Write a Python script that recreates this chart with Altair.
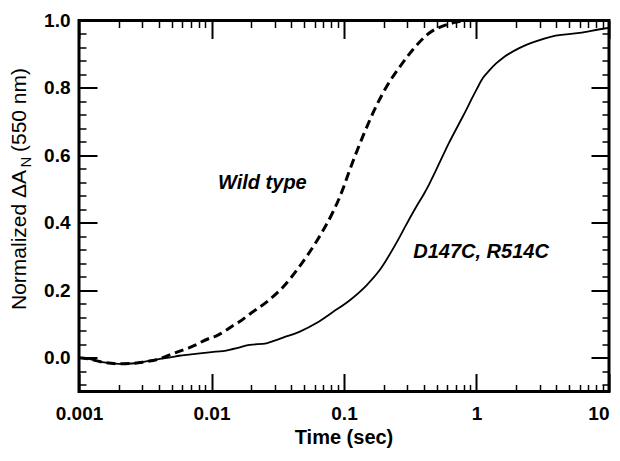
import altair as alt
import pandas as pd

# ---- data ----
wt_time = [0.001, 0.0012, 0.0015, 0.002, 0.0025, 0.003, 0.004, 0.0048, 0.0057, 0.0066,
           0.0076, 0.0082, 0.01, 0.0109, 0.0127, 0.0145, 0.016, 0.0195, 0.026, 0.0347,
           0.046, 0.062, 0.082, 0.0925, 0.098, 0.11, 0.14, 0.177, 0.222, 0.263, 0.333,
           0.44, 0.59, 0.74, 0.8]
wt_val = [0.0, -0.004, -0.013, -0.018, -0.017, -0.013, -0.004, 0.008, 0.019, 0.028,
          0.038, 0.045, 0.06, 0.065, 0.08, 0.095, 0.105, 0.13, 0.165, 0.21,
          0.27, 0.345, 0.43, 0.475, 0.5, 0.555, 0.66, 0.75, 0.82, 0.862, 0.915,
          0.963, 0.987, 0.997, 1.0]

mut_time = [0.001, 0.0012, 0.0015, 0.002, 0.0025, 0.003, 0.004, 0.005, 0.0057, 0.007,
            0.0085, 0.01, 0.0122, 0.0145, 0.0195, 0.026, 0.0295, 0.0347, 0.046, 0.062,
            0.082, 0.11, 0.148, 0.186, 0.248, 0.3, 0.36, 0.4, 0.44, 0.5, 0.62, 0.79, 1.0,
            1.12, 1.25, 1.4, 1.58, 2.1, 2.8, 3.75, 6.0, 9.5, 10.0]
mut_val = [0.0, -0.004, -0.013, -0.018, -0.017, -0.013, -0.004, 0.002, 0.006, 0.01,
           0.014, 0.017, 0.02, 0.026, 0.038, 0.043, 0.05, 0.06, 0.077, 0.103,
           0.135, 0.17, 0.215, 0.26, 0.34, 0.40, 0.455, 0.485, 0.515, 0.56, 0.637, 0.716, 0.795,
           0.83, 0.852, 0.872, 0.889, 0.918, 0.938, 0.953, 0.963, 0.977, 0.978]

x_major = [0.001, 0.01, 0.1, 1, 10]
x_minor = [0.002, 0.003, 0.004, 0.005, 0.006, 0.007, 0.008, 0.009,
           0.02, 0.03, 0.04, 0.05, 0.06, 0.07, 0.08, 0.09,
           0.2, 0.3, 0.4, 0.5, 0.6, 0.7, 0.8, 0.9,
           2, 3, 4, 5, 6, 7, 8, 9]
y_major = [0.0, 0.2, 0.4, 0.6, 0.8, 1.0]
y_minor = [-0.08, -0.04, 0.04, 0.08, 0.12, 0.16, 0.24, 0.28, 0.32, 0.36,
           0.44, 0.48, 0.52, 0.56, 0.64, 0.68, 0.72, 0.76, 0.84, 0.88, 0.92, 0.96]

labels = ["Wild type", "D147C, R514C"]
label_time = [0.0112, 0.333]
label_val = [0.501, 0.295]

W, H = 530, 371
FONT = "Liberation Sans"

wt = pd.DataFrame({"t": wt_time, "v": wt_val})
mut = pd.DataFrame({"t": mut_time, "v": mut_val})
lab = pd.DataFrame({"t": label_time, "v": label_val, "label": labels})

xs = alt.Scale(type="log", domain=[0.001, 10], nice=False)
ys = alt.Scale(domain=[-0.1, 1.0], nice=False, zero=False)


def ax(orient, values, size, labels_on=False, **kw):
    return alt.Axis(orient=orient, values=values, tickSize=size, offset=-size,
                    domain=False, grid=False, tickColor="black",
                    tickWidth=2 if size > 10 else 1.5, labels=labels_on,
                    labelFont=FONT, labelFontSize=19, labelFontWeight="bold",
                    labelColor="black", labelFlush=False, labelOverlap=False,
                    title=None, **kw)


mut_line = alt.Chart(mut).mark_line(color="black", strokeWidth=1.8,
                                    interpolate="monotone").encode(
    x=alt.X("t:Q", scale=xs, axis=ax(
        "bottom", x_major, 18, True, labelPadding=13, format="~g",
        labelAlign={"condition": {"test": "datum.value >= 10", "value": "right"},
                    "value": "center"})),
    y=alt.Y("v:Q", scale=ys, axis=ax("left", y_major, 18, True, labelPadding=9, format=".1f")),
)
wt_line = alt.Chart(wt).mark_line(color="black", strokeWidth=3, strokeDash=[9, 5],
                                  interpolate="monotone").encode(
    x=alt.X("t:Q", scale=xs, axis=ax("bottom", x_minor, 7)),
    y=alt.Y("v:Q", scale=ys, axis=ax("left", y_minor, 7)),
)
top_major = alt.Chart(mut).mark_line(opacity=0).encode(
    x=alt.X("t:Q", scale=xs, axis=ax("top", x_major, 18)),
    y=alt.Y("v:Q", scale=ys, axis=ax("right", y_major, 18)),
)
top_minor = alt.Chart(mut).mark_line(opacity=0).encode(
    x=alt.X("t:Q", scale=xs, axis=ax("top", x_minor, 7)),
    y=alt.Y("v:Q", scale=ys, axis=ax("right", y_minor, 7)),
)

ann = alt.Chart(lab).mark_text(align="left", baseline="alphabetic", font=FONT,
                               fontSize=20, fontWeight="bold", fontStyle="italic",
                               color="black").encode(
    x=alt.X("t:Q", scale=xs, axis=None),
    y=alt.Y("v:Q", scale=ys, axis=None),
    text="label:N",
)

one = pd.DataFrame({"a": [0]})
xtitle = alt.Chart(one).mark_text(text="Time (sec)", font=FONT, fontSize=20,
                                  fontWeight="bold", align="center",
                                  baseline="middle", color="black").encode(
    x=alt.value(W / 2), y=alt.value(417))

yt1 = alt.Chart(one).mark_text(text="Normalized  \u0394A", font=FONT, fontSize=21,
                               angle=270, align="left", baseline="middle",
                               color="black").encode(x=alt.value(-59), y=alt.value(289.5))
yt2 = alt.Chart(one).mark_text(text="N", font=FONT, fontSize=15,
                               angle=270, align="left", baseline="middle",
                               color="black").encode(x=alt.value(-53), y=alt.value(147))
yt3 = alt.Chart(one).mark_text(text="(550 nm)", font=FONT, fontSize=21,
                               angle=270, align="left", baseline="middle",
                               color="black").encode(x=alt.value(-59), y=alt.value(131.5))

chart = alt.layer(
    mut_line, wt_line, top_major, top_minor, ann, xtitle, yt1, yt2, yt3
).resolve_axis(x="independent", y="independent").properties(
    width=W, height=H,
    autosize=alt.AutoSizeParams(type="none"),
    padding={"left": 71, "top": 12.5, "right": 3, "bottom": 57.5},
    background="white",
).configure_view(stroke="black", strokeWidth=3)

chart.save("out.html", embed_options={"renderer": "svg", "actions": False})
